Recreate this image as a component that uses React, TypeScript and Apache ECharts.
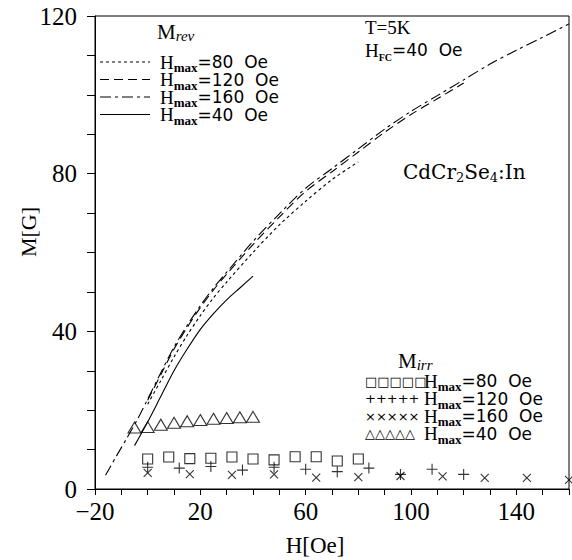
import { useEffect, useRef } from 'react';
import * as echarts from 'echarts';

// reversible magnetisation curves, H in Oe, M in G
const rev80H = [0, 5, 10, 15, 20, 25, 30, 40, 50, 60, 70, 80];
const rev80M = [21.5, 27.5, 33.5, 39, 44, 48.5, 52.5, 60, 67, 73, 78.5, 83];
const rev120H = [0, 5, 10, 15, 20, 25, 30, 40, 50, 60, 70, 80, 90, 100, 110, 120];
const rev120M = [22.5, 29, 35.5, 41, 46, 50.5, 54.5, 62, 69, 75.5, 80.5, 85.5, 90.5, 95, 99, 103];
const rev160H = [-16, -12, -8, -4, 0, 5, 10, 15, 20, 25, 30, 40, 50, 60, 70, 80, 90, 100, 110, 120, 130, 140, 150, 160];
const rev160M = [3.5, 8.2, 12.8, 17.5, 22.8, 29.5, 36, 41.5, 46.5, 51, 55, 62.8, 69.8, 76.3, 81.3, 86.3, 91.3, 95.8, 99.8, 103.8, 107.8, 111.3, 114.6, 118];
const rev40H = [-5, 0, 5, 10, 15, 20, 25, 30, 35, 40];
const rev40M = [11, 17, 23.5, 30, 35.5, 40.5, 44.5, 48, 51, 54];

// irreversible part
const irr80H = [0, 8, 16, 24, 32, 40, 48, 56, 64, 72, 80];
const irr80M = [7.6, 8.1, 7.7, 7.8, 8.1, 7.6, 7.4, 8.2, 8.2, 7.1, 7.6];
const irr120H = [0, 12, 24, 36, 48, 60, 72, 84, 96, 108, 120];
const irr120M = [5.5, 5.3, 5.7, 4.8, 5.5, 5.0, 4.4, 5.3, 3.7, 5.0, 3.7];
const irr160H = [0, 16, 32, 48, 64, 80, 96, 112, 128, 144, 160];
const irr160M = [4.1, 3.8, 3.6, 3.7, 2.9, 3.0, 3.3, 3.2, 2.8, 2.8, 2.3];
const irr40H = [-5, 0, 5, 10, 15, 20, 25, 30, 35, 40];
const irr40M = [15.6, 15.7, 16.3, 16.8, 17.2, 17.5, 17.8, 18.0, 18.2, 18.3];

const xLabels = [-20, 20, 60, 100, 140];
const yLabels = [0, 40, 80, 120];

const revLegend = ['80', '120', '160', '40'];
const irrLegend = ['80', '120', '160', '40'];
const irrGlyphs = ['\u25a1\u25a1\u25a1\u25a1\u25a1', '+++++', '\u00d7\u00d7\u00d7\u00d7\u00d7', '\u25b3\u25b3\u25b3\u25b3\u25b3'];

const SERIF = 'Liberation Serif';
const WIDE_SERIF = 'DejaVu Serif';
const SANS = 'DejaVu Sans';

const DASH80 = [3, 3];
const DASH120 = [9, 5];
const DASH160 = [11, 4, 3, 4];
const revDashes: (number[] | null)[] = [DASH80, DASH120, DASH160, null];

const zip = (xs: number[], ys: number[]) => xs.map((x, i) => [x, ys[i]]);

const PLUS = 'path://M0,5L10,5M5,0L5,10';
const CROSS = 'path://M0,0L10,10M10,0L0,10';

// main tokens sit in the middle of a tall line, subscripts hang at its bottom
const rich = {
  h: { fontFamily: SERIF, fontSize: 19, fill: '#000', lineHeight: 24 },
  m: { fontFamily: SERIF, fontSize: 21, fill: '#000', lineHeight: 22 },
  s: { fontFamily: SERIF, fontSize: 13, fontWeight: 'bold', fill: '#000', verticalAlign: 'bottom' },
  f: { fontFamily: SERIF, fontSize: 10, fontWeight: 'bold', fill: '#000', verticalAlign: 'bottom' },
  r: { fontFamily: SERIF, fontSize: 15, fontStyle: 'italic', fill: '#000', verticalAlign: 'bottom', lineHeight: 8 },
  t: { fontFamily: SANS, fontSize: 17, fill: '#000', lineHeight: 24 },
  k: { fontFamily: SERIF, fontSize: 19, fill: '#000' },
  c: { fontFamily: WIDE_SERIF, fontSize: 20, fill: '#000', lineHeight: 24 },
  cs: { fontFamily: WIDE_SERIF, fontSize: 13, fill: '#000', verticalAlign: 'bottom' },
};

const hmax = (v: string) => `{h|H}{s|max}{t|=${v}  Oe}`;

export default function App() {
  const chartRef = useRef<HTMLDivElement>(null);

  useEffect(() => {
    if (!chartRef.current) return;
    const chart = echarts.init(chartRef.current, null, { renderer: 'svg' });

    const line = (name: string, xs: number[], ys: number[], dash: number[] | null) => ({
      name,
      type: 'line',
      data: zip(xs, ys),
      smooth: 0.3,
      symbol: 'none',
      lineStyle: { color: '#000', width: 1.1, type: dash ?? 'solid' },
    });

    const scatter = (name: string, xs: number[], ys: number[], symbol: string, size: number | number[]) => ({
      name,
      type: 'scatter',
      data: zip(xs, ys),
      symbol,
      symbolSize: size,
      itemStyle: { color: 'none', borderColor: '#000', borderWidth: 1.1 },
    });

    const txt = (x: number, y: number, text: string) => ({
      type: 'text',
      x,
      y,
      style: { text, rich, verticalAlign: 'middle', align: 'left' },
    });

    const graphics: any[] = [];
    // M_rev legend
    graphics.push(txt(157, 32, '{m|M}{r|rev}'));
    revLegend.forEach((v, i) => {
      const y = 62 + i * 17.5;
      graphics.push({
        type: 'line',
        shape: { x1: 100, y1: y, x2: 150, y2: y },
        style: { stroke: '#000', lineWidth: 1.1, lineDash: revDashes[i] ?? undefined },
      });
      graphics.push(txt(160, y, hmax(v)));
    });
    // M_irr legend
    graphics.push(txt(398, 361, '{m|M}{r|irr}'));
    irrLegend.forEach((v, i) => {
      const y = 381 + i * 17.5;
      graphics.push({
        type: 'text',
        x: 365,
        y,
        style: { text: irrGlyphs[i], font: `13px "${SANS}"`, fill: '#000', verticalAlign: 'middle', align: 'left' },
      });
      graphics.push(txt(424, y, hmax(v)));
    });
    // annotations
    graphics.push(txt(365, 27, '{k|T=5K}'));
    graphics.push(txt(365, 50, '{h|H}{f|FC}{t|=40  Oe}'));
    graphics.push(txt(403, 172, '{c|CdCr}{cs|2}{c|Se}{cs|4}{c|:In}'));
    // axis titles
    graphics.push({
      type: 'text',
      x: 28,
      y: 232,
      rotation: Math.PI / 2,
      style: { text: 'M[G]', font: `22px "${SERIF}"`, fill: '#000', align: 'center', verticalAlign: 'middle' },
    });
    graphics.push({
      type: 'text',
      x: 315,
      y: 545,
      style: { text: 'H[Oe]', font: `23px "${SERIF}"`, fill: '#000', align: 'center', verticalAlign: 'middle' },
    });

    const option: any = {
      animation: false,
      backgroundColor: '#fff',
      grid: {
        left: 95,
        right: 2,
        top: 16,
        bottom: 71,
        show: true,
        borderColor: '#000',
        borderWidth: 1,
      },
      xAxis: {
        type: 'value',
        min: -20,
        max: 160,
        interval: 10,
        axisLine: { onZero: false, lineStyle: { color: '#000', width: 1 } },
        axisTick: { length: 6, lineStyle: { color: '#000' } },
        splitLine: { show: false },
        axisLabel: {
          fontFamily: SERIF,
          fontSize: 25,
          color: '#000',
          margin: 10,
          formatter: (v: number) => (xLabels.includes(v) ? String(v).replace('-', '\u2212') : ''),
        },
      },
      yAxis: {
        type: 'value',
        min: 0,
        max: 120,
        interval: 10,
        axisLine: { onZero: false, lineStyle: { color: '#000', width: 1 } },
        axisTick: { length: 8, lineStyle: { color: '#000' } },
        splitLine: { show: false },
        axisLabel: {
          fontFamily: SERIF,
          fontSize: 25,
          color: '#000',
          margin: 18,
          formatter: (v: number) => (yLabels.includes(v) ? String(v) : ''),
        },
      },
      series: [
        line('rev80', rev80H, rev80M, DASH80),
        line('rev120', rev120H, rev120M, DASH120),
        line('rev160', rev160H, rev160M, DASH160),
        line('rev40', rev40H, rev40M, null),
        scatter('irr80', irr80H, irr80M, 'rect', 10),
        scatter('irr120', irr120H, irr120M, PLUS, 11),
        scatter('irr160', irr160H, irr160M, CROSS, 8),
        scatter('irr40', irr40H, irr40M, 'triangle', [13, 11]),
      ],
      graphic: graphics,
    };

    chart.setOption(option);

    return () => {
      chart.dispose();
    };
  }, []);

  return (
    <div
      ref={chartRef}
      style={{ position: 'absolute', left: 0, top: 0, width: 572, height: 560 }}
    />
  );
}
